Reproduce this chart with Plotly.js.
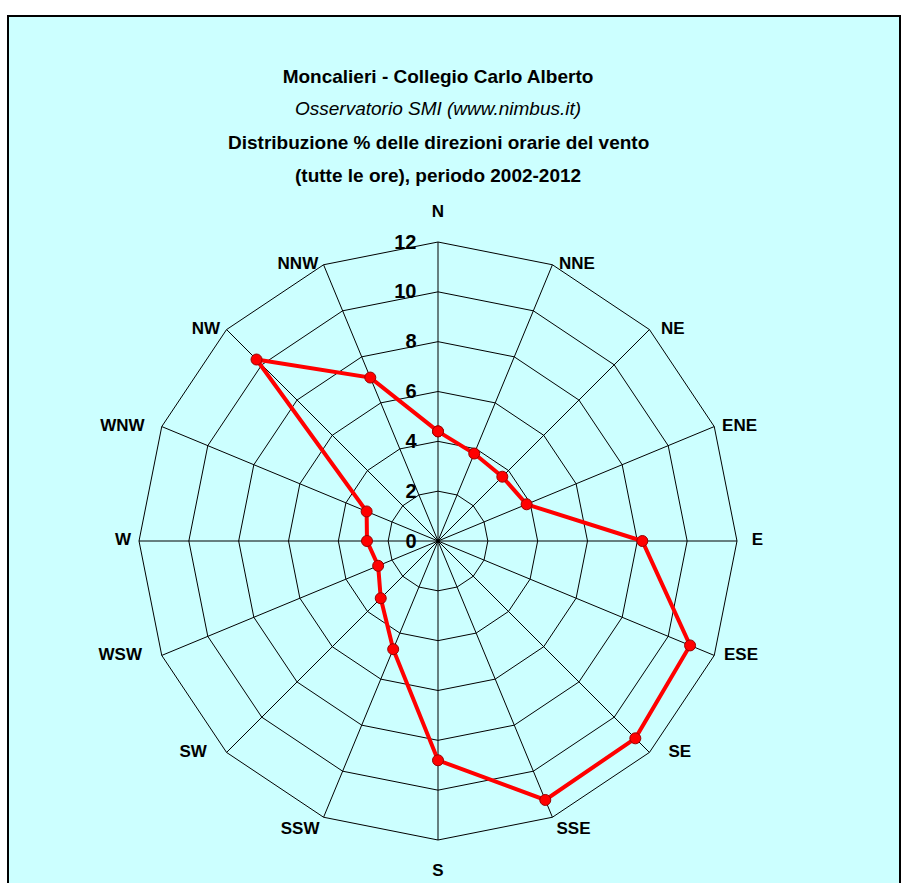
<!DOCTYPE html>
<html>
<head>
<meta charset="utf-8">
<script src="https://cdn.plot.ly/plotly-3.0.1.min.js"></script>
<style>html,body{margin:0;padding:0;background:#fff;}#chart{width:908px;height:883px;}</style>
</head>
<body>
<div id="chart"></div>
<script>
// Wind directions (16-point compass)
var directions = ['N','NNE','NE','ENE','E','ESE','SE','SSE','S','SSW','SW','WSW','W','WNW','NW','NNW'];
// Percent of hourly observations per direction, 2002-2012
var frequencies = [4.4, 3.8, 3.65, 3.85, 8.2, 10.95, 11.2, 11.25, 8.8, 4.7, 3.25, 2.6, 2.85, 3.1, 10.3, 7.1];
var radialTicks = [0, 2, 4, 6, 8, 10, 12];
var titleLines = [
  'Moncalieri - Collegio Carlo Alberto',
  'Osservatorio SMI (www.nimbus.it)',
  'Distribuzione % delle direzioni orarie del vento',
  '(tutte le ore), periodo 2002-2012'
];

var RMAX = 12;
var thetaClosed = directions.concat([directions[0]]);
var rClosed = frequencies.concat([frequencies[0]]);

// Label placement style (Excel-like: labels beside the outer vertex)
var labelPos = {
  N: ['top center', 32], NNE: ['middle right', 9], NE: ['middle right', 17], ENE: ['middle right', 11],
  E: ['middle right', 22], ESE: ['middle right', 14], SE: ['middle right', 29], SSE: ['bottom right', 5],
  S: ['bottom center', 36], SSW: ['bottom left', 5], SW: ['middle left', 30], WSW: ['middle left', 30],
  W: ['middle left', 11], WNW: ['middle left', 26], NW: ['middle left', 9], NNW: ['middle left', 7]
};

var FONT = 'Liberation Sans, Arial, sans-serif';
var W = 908, H = 883;
var cx = 438, cy = 541, R = 299;
var TSIZE = 19;

var trace = {
  type: 'scatterpolar',
  mode: 'lines+markers',
  theta: thetaClosed,
  r: rClosed,
  line: {color: '#ff0000', width: 4},
  marker: {color: '#ff0000', size: 11, line: {color: '#990000', width: 1}},
  cliponaxis: false,
  showlegend: false,
  hoverinfo: 'theta+r'
};

var labelTrace = {
  type: 'scatterpolar',
  mode: 'markers+text',
  theta: directions,
  r: directions.map(function () { return RMAX; }),
  text: directions.map(function (d) { return '<b>' + d + '</b>'; }),
  textposition: directions.map(function (d) { return labelPos[d][0]; }),
  textfont: {family: FONT, size: 17, color: '#000'},
  marker: {size: directions.map(function (d) { return labelPos[d][1]; }), color: 'rgba(0,0,0,0)', line: {width: 0}},
  cliponaxis: false,
  showlegend: false,
  hoverinfo: 'skip'
};

function titleAnn(text, y) {
  return {text: text, xref: 'paper', yref: 'paper', x: cx / W, y: 1 - y / H,
          xanchor: 'center', yanchor: 'middle', showarrow: false,
          font: {family: FONT, size: TSIZE, color: '#000'}};
}

var layout = {
  width: W, height: H,
  margin: {l: 0, r: 0, t: 0, b: 0},
  paper_bgcolor: '#ffffff',
  font: {family: FONT, color: '#000'},
  title: {
    text: '<b>' + titleLines[0] + '</b>',
    font: {family: FONT, size: TSIZE, color: '#000'},
    x: cx / W, xanchor: 'center', xref: 'paper',
    y: 1 - 76 / H, yanchor: 'middle', yref: 'container'
  },
  annotations: [
    titleAnn('<i>' + titleLines[1] + '</i>', 109),
    titleAnn('<b>' + titleLines[2] + '</b>', 142),
    titleAnn('<b>' + titleLines[3] + '</b>', 175)
  ],
  shapes: [
    {type: 'rect', xref: 'paper', yref: 'paper', layer: 'below',
     x0: 8 / W, x1: 900 / W, y0: -0.05, y1: 1 - 16 / H,
     fillcolor: '#ccffff', line: {color: '#000', width: 2}}
  ],
  polar: {
    domain: {x: [(cx - R) / W, (cx + R) / W], y: [1 - (cy + R) / H, 1 - (cy - R) / H]},
    bgcolor: 'rgba(0,0,0,0)',
    gridshape: 'linear',
    radialaxis: {
      range: [0, RMAX],
      tickvals: radialTicks,
      ticktext: radialTicks.map(String),
      angle: 90,
      tickangle: 90,
      side: 'counterclockwise',
      showline: false,
      ticks: 'outside',
      ticklen: 14,
      tickcolor: 'rgba(0,0,0,0)',
      gridcolor: '#000',
      gridwidth: 1,
      tickfont: {family: FONT, size: 20, color: '#000', weight: 'bold'},
      layer: 'below traces'
    },
    angularaxis: {
      type: 'category',
      categoryarray: directions,
      direction: 'clockwise',
      rotation: 90,
      showline: true,
      linecolor: '#000',
      linewidth: 1,
      gridcolor: '#000',
      gridwidth: 1,
      ticks: '',
      showticklabels: false,
      layer: 'below traces'
    }
  }
};

Plotly.newPlot('chart', [trace, labelTrace], layout, {displayModeBar: false, staticPlot: true});
</script>
</body>
</html>
